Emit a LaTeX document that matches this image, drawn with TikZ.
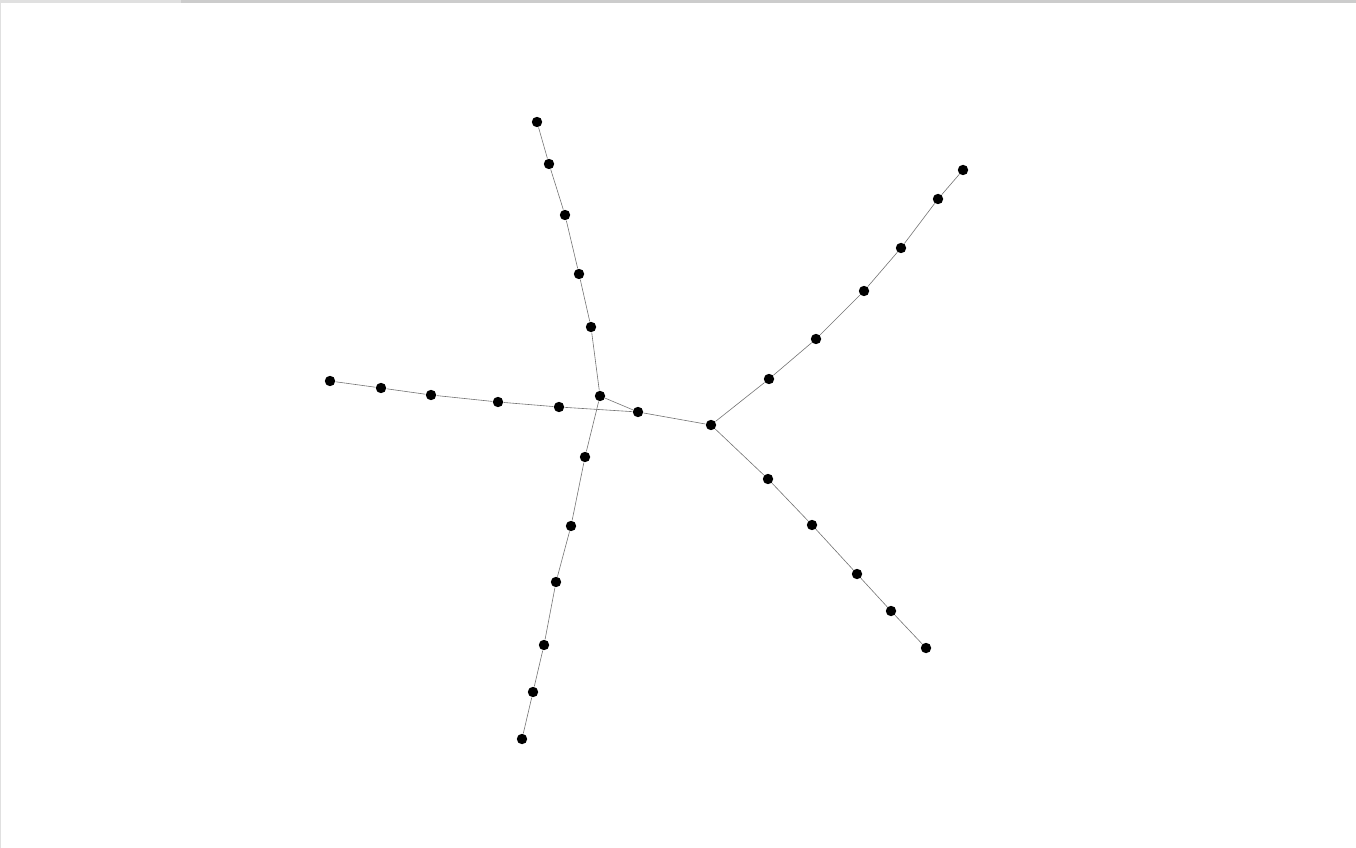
\documentclass[tikz,border=0pt]{standalone}
\usepackage{tikz}

\tikzset{every picture/.style={line width=0.75pt}}
\tikzset{dot/.style={circle,fill=black,draw=none,inner sep=0pt,minimum size=7.8pt},
  link/.style={draw=black!55,line width=0.45pt}}

\begin{document}
\begin{tikzpicture}[x=0.75pt,y=0.75pt,yscale=-1,xscale=1]
%set diagram left start at 0, and has height of 848
\useasboundingbox (0,0) rectangle (1356,848);

%Frame: top bar and left edge
\fill[black!12] (0,0) rectangle (181,3);
\fill[black!20] (181,0) rectangle (1356,3);
\fill[black!12] (0,3) rectangle (1.3,848);

%Nodes: centre and junctions
\node[dot] (c) at (711,425) {};
\node[dot] (j) at (638,412) {};
\node[dot] (m) at (600,396) {};

%Nodes: left arm
\node[dot] (l1) at (330,381) {};
\node[dot] (l2) at (381,388) {};
\node[dot] (l3) at (431,395) {};
\node[dot] (l4) at (498,402) {};
\node[dot] (l5) at (559,407) {};

%Nodes: top arm
\node[dot] (t1) at (537,122) {};
\node[dot] (t2) at (549,164) {};
\node[dot] (t3) at (565,215) {};
\node[dot] (t4) at (579,274) {};
\node[dot] (t5) at (591,327) {};

%Nodes: bottom arm
\node[dot] (b1) at (585,457) {};
\node[dot] (b2) at (571,526) {};
\node[dot] (b3) at (556,582) {};
\node[dot] (b4) at (544,645) {};
\node[dot] (b5) at (533,692) {};
\node[dot] (b6) at (522,739) {};

%Nodes: upper right arm
\node[dot] (r1) at (769,379) {};
\node[dot] (r2) at (816,339) {};
\node[dot] (r3) at (864,291) {};
\node[dot] (r4) at (901,248) {};
\node[dot] (r5) at (938,199) {};
\node[dot] (r6) at (963,170) {};

%Nodes: lower right arm
\node[dot] (d1) at (768,479) {};
\node[dot] (d2) at (812,525) {};
\node[dot] (d3) at (857,574) {};
\node[dot] (d4) at (891,611) {};
\node[dot] (d5) at (926,648) {};

%Edges
\path[link] (l1) -- (l2) -- (l3) -- (l4) -- (l5) -- (j) -- (c);
\path[link] (t1) -- (t2) -- (t3) -- (t4) -- (t5) -- (m) -- (b1) -- (b2) -- (b3) -- (b4) -- (b5) -- (b6);
\path[link] (m) -- (j);
\path[link] (c) -- (r1) -- (r2) -- (r3) -- (r4) -- (r5) -- (r6);
\path[link] (c) -- (d1) -- (d2) -- (d3) -- (d4) -- (d5);

\end{tikzpicture}
\end{document}
